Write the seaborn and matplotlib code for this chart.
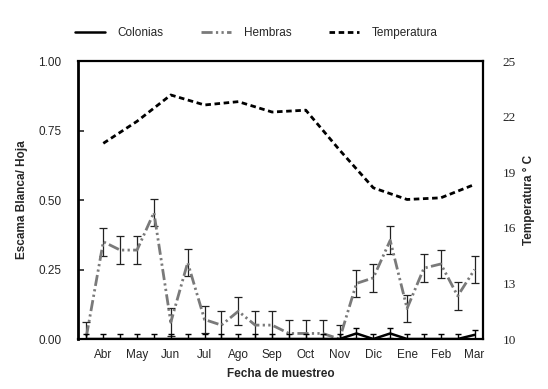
import numpy as np
import pandas as pd
import seaborn as sns
import matplotlib.pyplot as plt
from matplotlib.lines import Line2D

# sampling every half month, labels on monthly positions
samples = list(range(24))
months = ['Abr', 'May', 'Jun', 'Jul', 'Ago', 'Sep', 'Oct', 'Nov', 'Dic', 'Ene', 'Feb', 'Mar']
month_pos = [1, 3, 5, 7, 9, 11, 13, 15, 17, 19, 21, 23]

hembras = [0.01, 0.35, 0.32, 0.32, 0.455, 0.06, 0.275, 0.07, 0.05, 0.10, 0.05, 0.05,
           0.02, 0.02, 0.02, 0.0, 0.20, 0.22, 0.355, 0.11, 0.255, 0.27, 0.155, 0.25]
hembras_err = [0.05, 0.05, 0.05, 0.05, 0.05, 0.05, 0.05, 0.05, 0.05, 0.05, 0.05, 0.05,
               0.05, 0.05, 0.05, 0.05, 0.05, 0.05, 0.05, 0.05, 0.05, 0.05, 0.05, 0.05]
colonias = [0, 0, 0, 0, 0, 0, 0, 0, 0, 0, 0, 0,
            0, 0, 0, 0, 0.02, 0, 0.02, 0, 0, 0, 0, 0.015]
colonias_err = [0.018] * 24
temperatura = [20.56, 21.75, 23.17, 22.63, 22.81, 22.25, 22.35, 20.2, 18.16, 17.53, 17.62, 18.34]

sns.set_style("white")
plt.rcParams['font.family'] = ['Liberation Sans', 'DejaVu Sans']

fig = plt.figure(figsize=(5.48, 3.89), dpi=100)
ax = fig.add_axes([0.1423, 0.1285, 0.7391, 0.7145])

hem_ls = (0, (4, 1.2, 0.8, 1.2, 0.8, 1.2))
temp_ls = (0, (2, 1.3))
gray = '#7a7a7a'

df = pd.DataFrame({'muestra': samples, 'hembras': hembras, 'colonias': colonias})

ax.errorbar(samples, hembras, yerr=hembras_err, fmt='none', ecolor='#222222',
            elinewidth=0.9, capsize=3, capthick=0.9, zorder=2)
sns.lineplot(data=df, x='muestra', y='hembras', ax=ax, color=gray, lw=2,
             linestyle=hem_ls, zorder=3)
ax.errorbar(samples, colonias, yerr=colonias_err, fmt='none', ecolor='black',
            elinewidth=1.0, capsize=2.5, capthick=1.0, zorder=4)
sns.lineplot(data=df, x='muestra', y='colonias', ax=ax, color='black', lw=1.8, zorder=5)

ax.set_xlim(-0.5, 23.5)
ax.set_ylim(0, 1)
ax.set_yticks([0, 0.25, 0.5, 0.75, 1.0])
ax.set_yticklabels(['0.00', '0.25', '0.50', '0.75', '1.00'])
ax.set_xticks(month_pos)
ax.set_xticklabels(months)
ax.tick_params(axis='x', length=0, pad=7, labelsize=8.5)
ax.tick_params(axis='y', direction='in', length=4, width=1.2, pad=12, labelsize=8.5)
ax.set_xlabel('Fecha de muestreo', fontsize=8.5, fontweight='bold', labelpad=5)
ax.set_ylabel('Escama Blanca/ Hoja', fontsize=8.5, fontweight='bold', labelpad=7)
for side in ['left', 'right', 'top', 'bottom']:
    ax.spines[side].set_visible(True)
    ax.spines[side].set_color('black')
    ax.spines[side].set_linewidth(1.6)
ax.spines['left'].set_linewidth(2)

ax2 = ax.twinx()
tdf = pd.DataFrame({'mes': month_pos, 'temp': temperatura})
sns.lineplot(data=tdf, x='mes', y='temp', ax=ax2, color='black', lw=2, linestyle=temp_ls)
ax2.set_ylim(10, 25)
ax2.set_yticks([10, 13, 16, 19, 22, 25])
ax2.tick_params(axis='y', length=0, pad=14)
for lab in ax2.get_yticklabels():
    lab.set_family(['Liberation Serif', 'DejaVu Serif'])
    lab.set_fontsize(9.5)
ax2.set_ylabel('Temperatura ° C', fontsize=8.5, fontweight='bold', labelpad=5)
ax2.set_xlabel('')
for side in ['left', 'right', 'top', 'bottom']:
    ax2.spines[side].set_visible(False)

handles = [Line2D([], [], color='black', lw=1.8),
           Line2D([], [], color=gray, lw=2, linestyle=hem_ls),
           Line2D([], [], color='black', lw=2, linestyle=temp_ls)]
fig.legend(handles, ['Colonias', 'Hembras', 'Temperatura'], loc='center',
           bbox_to_anchor=(0.468, 0.915), ncol=3, frameon=False, fontsize=8.5,
           handlelength=2.5, columnspacing=3.2, handletextpad=1.1)

fig.savefig('out.png', dpi=100)
